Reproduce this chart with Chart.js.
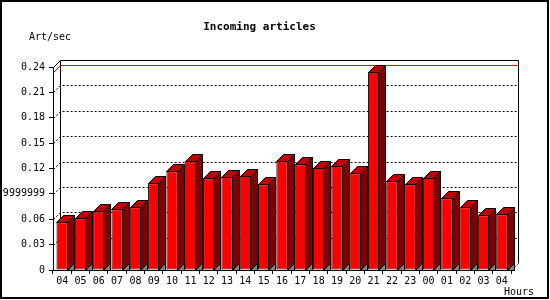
<!DOCTYPE html>
<html>
<head>
<meta charset="utf-8">
<script src="https://cdn.jsdelivr.net/npm/chart.js@4/dist/chart.umd.min.js"></script>
<style>
  html, body { margin: 0; padding: 0; background: #fff; }
</style>
</head>
<body>
<canvas id="chart" width="550" height="300"></canvas>
<script>
// Hourly incoming article rate
const hours = ['04', '05', '06', '07', '08', '09', '10', '11', '12', '13', '14', '15', '16',
  '17', '18', '19', '20', '21', '22', '23', '00', '01', '02', '03', '04'];
const articles = [0.0565, 0.0612, 0.0695, 0.0719, 0.0742, 0.1026, 0.1168, 0.1287, 0.1086,
  0.1101, 0.1113, 0.1015, 0.1287, 0.1251, 0.1208, 0.1231, 0.1145, 0.2341, 0.1050,
  0.1015, 0.1089, 0.0849, 0.0742, 0.0648, 0.0659];
const yTicks = ['0', '0.03', '0.06', '0.0899999999999999', '0.12', '0.15', '0.18', '0.21', '0.24'];

const DEPTH = 7;
const MONO = "'DejaVu Sans Mono', 'Liberation Mono', monospace";

function poly(ctx, pts, fill) {
  ctx.beginPath();
  ctx.moveTo(pts[0][0], pts[0][1]);
  for (let i = 1; i < pts.length; i++) ctx.lineTo(pts[i][0], pts[i][1]);
  ctx.closePath();
  if (fill) { ctx.fillStyle = fill; ctx.fill(); }
  ctx.stroke();
}

// back wall, grid, max line, 3d faces of the bars
const wall3d = {
  id: 'wall3d',
  beforeDatasetsDraw(chart) {
    const { ctx, chartArea: a, scales: { y } } = chart;
    const L = Math.round(a.left) + 0.5, R = Math.round(a.right) + 0.5;
    const T = Math.round(a.top) + 0.5, B = Math.round(a.bottom) + 0.5;
    ctx.save();
    ctx.lineWidth = 1;

    // dotted grid lines on the back wall
    ctx.strokeStyle = '#000';
    ctx.setLineDash([2, 2]);
    y.ticks.forEach(t => {
      if (t.value <= 0 || t.value >= y.max) return;
      const py = Math.round(y.getPixelForValue(t.value)) + 0.5;
      ctx.beginPath();
      ctx.moveTo(L, py);
      ctx.lineTo(L + DEPTH, py - DEPTH);
      ctx.lineTo(R + DEPTH, py - DEPTH);
      ctx.stroke();
    });
    ctx.setLineDash([]);

    // max value line
    const my = Math.round(y.getPixelForValue(Math.max(...articles))) + 0.5;
    ctx.strokeStyle = '#ff0000';
    ctx.beginPath();
    ctx.moveTo(L, my);
    ctx.lineTo(L + DEPTH, my - DEPTH);
    ctx.lineTo(R + DEPTH, my - DEPTH);
    ctx.stroke();

    // wall outline
    ctx.strokeStyle = '#000';
    ctx.beginPath();
    ctx.moveTo(L, T);
    ctx.lineTo(L + DEPTH, T - DEPTH);
    ctx.lineTo(R + DEPTH, T - DEPTH);
    ctx.lineTo(R + DEPTH, B - DEPTH);
    ctx.moveTo(L + DEPTH, T - DEPTH);
    ctx.lineTo(L + DEPTH, B - DEPTH);
    ctx.stroke();
    ctx.strokeStyle = '#808080';
    ctx.beginPath();
    ctx.moveTo(R, B);
    ctx.lineTo(R + DEPTH, B - DEPTH);
    ctx.stroke();
    ctx.restore();
  },
  afterDatasetsDraw(chart) {
    const { ctx } = chart;
    const meta = chart.getDatasetMeta(0);
    ctx.save();
    ctx.lineWidth = 1;
    ctx.strokeStyle = '#000';
    meta.data.forEach(bar => {
      const { x, y, base, width } = bar.getProps(['x', 'y', 'base', 'width'], true);
      const xl = Math.round(x - width / 2) + 0.5;
      const xr = Math.round(x + width / 2) - 0.5;
      const top = Math.round(y) + 0.5;
      const bot = Math.round(base) + 0.5;
      // floor shadow
      poly(ctx, [[xr, bot], [xr + DEPTH, bot - DEPTH], [xr + DEPTH, bot]], '#808080');
      // side
      poly(ctx, [[xr, top], [xr + DEPTH, top - DEPTH], [xr + DEPTH, bot - DEPTH], [xr, bot]], '#800000');
      // top
      poly(ctx, [[xl, top], [xl + DEPTH, top - DEPTH], [xr + DEPTH, top - DEPTH], [xr, top]], '#c00000');
    });
    ctx.restore();
  },
  afterDraw(chart) {
    const { ctx } = chart;
    ctx.save();
    ctx.fillStyle = '#000';
    ctx.textBaseline = 'middle';
    ctx.textAlign = 'center';
    ctx.font = 'bold 11px ' + MONO;
    ctx.fillText('Incoming articles', 259.5, 27);
    ctx.font = '10px ' + MONO;
    ctx.textAlign = 'left';
    ctx.fillText('Art/sec', 29, 37);
    ctx.fillText('Hours', 504, 292);
    ctx.strokeStyle = '#000';
    ctx.lineWidth = 2;
    ctx.strokeRect(1, 1, 547, 297);
    ctx.restore();
  }
};

new Chart(document.getElementById('chart'), {
  type: 'bar',
  data: {
    labels: hours,
    datasets: [{
      data: articles,
      backgroundColor: '#ff0000',
      borderColor: '#000',
      borderWidth: 1,
      borderSkipped: false,
      barPercentage: 0.62,
      categoryPercentage: 1
    }]
  },
  options: {
    responsive: false,
    animation: false,
    layout: { padding: { left: 0, right: 39, top: 67, bottom: 0 } },
    plugins: {
      legend: { display: false },
      tooltip: { enabled: false },
      title: { display: false }
    },
    scales: {
      x: {
        grid: { drawOnChartArea: false, tickLength: 4, color: '#000', offset: true },
        border: { color: '#000' },
        ticks: { color: '#000', font: { family: MONO, size: 10 }, padding: 1, autoSkip: false, maxRotation: 0 },
        afterFit(s) { s.height = 30; }
      },
      y: {
        min: 0,
        max: 0.24,
        grid: { drawOnChartArea: false, tickLength: 4, color: '#000' },
        border: { color: '#000' },
        ticks: {
          stepSize: 0.03,
          color: '#000',
          font: { family: MONO, size: 10 },
          padding: 4,
          callback: (v, i) => yTicks[i]
        },
        afterFit(s) { s.width = 53; }
      }
    }
  },
  plugins: [wall3d]
});
</script>
</body>
</html>
